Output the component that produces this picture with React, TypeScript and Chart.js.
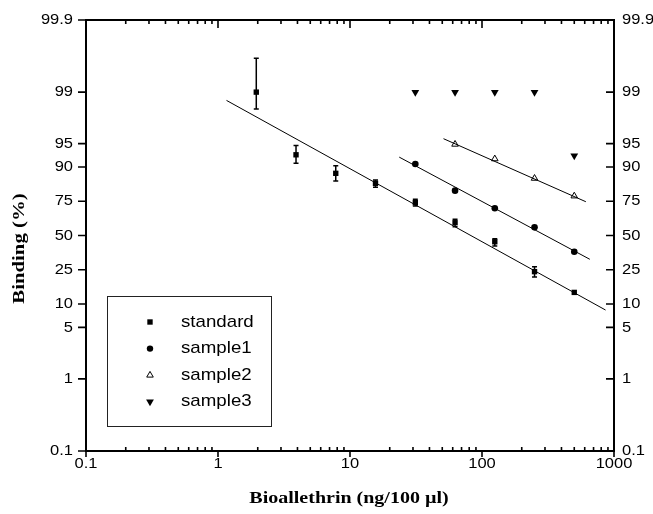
import React, { useEffect, useRef } from 'react';
import { Chart, registerables } from 'chart.js';
import { drawPoint } from 'chart.js/helpers';

Chart.register(...registerables);

// ---- data (binding in %, concentration in ng/100 µl) ----
const standardConc = [1.95, 3.9, 7.8, 15.6, 31.25, 62.5, 125, 250, 500];
const standardBinding = [99.0, 93.0, 88.0, 84.2, 74.1, 60.1, 45.0, 23.9, 13.9];
const standardErrHigh = [99.66, 94.7, 90.35, 85.6, 76.1, 62.7, 47.4, 26.9, 13.9];
const standardErrLow = [98.3, 91.0, 85.2, 82.4, 72.0, 57.0, 41.7, 20.9, 13.9];

const sample1Conc = [31.25, 62.5, 125, 250, 500];
const sample1Binding = [90.8, 80.8, 70.5, 56.5, 37.3];

const sample2Conc = [62.5, 125, 250, 500];
const sample2Binding = [94.9, 92.1, 86.2, 78.0];

const sample3Conc = [31.25, 62.5, 125, 250, 500];
const sample3Binding = [99.0, 99.0, 99.0, 99.0, 92.8];

// fitted lines (end points)
const fitStandardConc = [1.16, 863];
const fitStandardBinding = [98.7, 8.4];
const fitSample1Conc = [23.6, 656];
const fitSample1Binding = [92.5, 31.8];
const fitSample2Conc = [51.1, 612];
const fitSample2Binding = [95.7, 74.7];

const yTickValues = [0.1, 1, 5, 10, 25, 50, 75, 90, 95, 99, 99.9];
const yTickLabels = ['0.1', '1', '5', '10', '25', '50', '75', '90', '95', '99', '99.9'];
const xTickValues = [0.1, 1, 10, 100, 1000];
const xTickLabels = ['0.1', '1', '10', '100', '1000'];

const legendLabels = ['standard', 'sample1', 'sample2', 'sample3'];

const logit = (pct: number) => {
  const p = pct / 100;
  return Math.log(p / (1 - p));
};

const pts = (xs: number[], ys: number[]) => xs.map((x, i) => ({ x, y: logit(ys[i]) }));

const SANS = '"Liberation Sans", Arial, sans-serif';
const SERIF = '"Liberation Serif", "Times New Roman", serif';

function stretchText(
  ctx: CanvasRenderingContext2D,
  text: string,
  x: number,
  y: number,
  sx: number,
  align: CanvasTextAlign,
  baseline: CanvasTextBaseline = 'middle',
  rotate = 0
) {
  ctx.save();
  ctx.translate(x, y);
  if (rotate) ctx.rotate(rotate);
  ctx.scale(sx, 1);
  ctx.textAlign = align;
  ctx.textBaseline = baseline;
  ctx.fillText(text, 0, 0);
  ctx.restore();
}

const markerStyles = [
  { pointStyle: 'rect', radius: 3.8, rotation: 0, fill: '#000', borderWidth: 0 },
  { pointStyle: 'circle', radius: 3.2, rotation: 0, fill: '#000', borderWidth: 0 },
  { pointStyle: 'triangle', radius: 3.8, rotation: 0, fill: '#fff', borderWidth: 1 },
  { pointStyle: 'triangle', radius: 4.5, rotation: 180, fill: '#000', borderWidth: 0 },
];

const framePlugin = {
  id: 'probFrame',
  beforeDatasetsDraw(chart: any) {
    const ctx: CanvasRenderingContext2D = chart.ctx;
    const xs = chart.scales.x;
    const ys = chart.scales.y;
    ctx.save();
    ctx.strokeStyle = '#000';
    ctx.lineWidth = 1.5;
    standardConc.forEach((c, i) => {
      const hi = standardErrHigh[i];
      const lo = standardErrLow[i];
      if (hi === lo) return;
      const x = xs.getPixelForValue(c);
      const y1 = ys.getPixelForValue(logit(hi));
      const y2 = ys.getPixelForValue(logit(lo));
      ctx.beginPath();
      ctx.moveTo(x, y1);
      ctx.lineTo(x, y2);
      ctx.moveTo(x - 2.5, y1);
      ctx.lineTo(x + 2.5, y1);
      ctx.moveTo(x - 2.5, y2);
      ctx.lineTo(x + 2.5, y2);
      ctx.stroke();
    });
    ctx.restore();
  },
  afterDraw(chart: any) {
    const ctx: CanvasRenderingContext2D = chart.ctx;
    const { left, right, top, bottom } = chart.chartArea;
    const xs = chart.scales.x;
    const ys = chart.scales.y;
    ctx.save();
    ctx.strokeStyle = '#000';
    ctx.fillStyle = '#000';

    // frame
    ctx.lineWidth = 2;
    ctx.strokeRect(left, top, right - left, bottom - top);

    // y ticks
    ctx.lineWidth = 1.6;
    ctx.beginPath();
    yTickValues.forEach((v) => {
      const y = ys.getPixelForValue(logit(v));
      ctx.moveTo(left - 8, y);
      ctx.lineTo(left, y);
      ctx.moveTo(right - 8, y);
      ctx.lineTo(right, y);
    });
    ctx.stroke();

    // x ticks (major + minor)
    ctx.beginPath();
    for (let d = 0.1; d < 1000 * 1.001; d *= 10) {
      const x = xs.getPixelForValue(d);
      ctx.moveTo(x, bottom);
      ctx.lineTo(x, bottom + 6);
      ctx.moveTo(x, top);
      ctx.lineTo(x, top + 8);
      if (d < 999) {
        for (let m = 2; m <= 9; m++) {
          const xm = xs.getPixelForValue(d * m);
          ctx.moveTo(xm, bottom);
          ctx.lineTo(xm, bottom - 4);
          ctx.moveTo(xm, top);
          ctx.lineTo(xm, top + 4);
        }
      }
    }
    ctx.stroke();

    // tick labels
    ctx.font = `15px ${SANS}`;
    yTickValues.forEach((v, i) => {
      const y = ys.getPixelForValue(logit(v));
      stretchText(ctx, yTickLabels[i], left - 13, y, 1.1, 'right');
      stretchText(ctx, yTickLabels[i], right + 8, y, 1.1, 'left');
    });
    xTickValues.forEach((v, i) => {
      const x = xs.getPixelForValue(v);
      stretchText(ctx, xTickLabels[i], x, bottom + 13, 1.1, 'center');
    });

    // axis titles
    ctx.font = `bold 16px ${SERIF}`;
    stretchText(ctx, 'Bioallethrin (ng/100 \u00b5l)', (left + right) / 2 - 1, bottom + 52, 1.25, 'center', 'alphabetic');
    stretchText(ctx, 'Binding (%)', 24, (top + bottom) / 2 + 13, 1.3, 'center', 'alphabetic', -Math.PI / 2);

    // legend
    const lx = left + 21;
    const ly = top + 276;
    ctx.lineWidth = 1;
    ctx.strokeStyle = '#222';
    ctx.strokeRect(lx + 0.5, ly + 0.5, 164, 130);
    ctx.font = `17px ${SANS}`;
    legendLabels.forEach((lab, i) => {
      const ry = ly + 26 + i * 26.6;
      const ms = markerStyles[i];
      ctx.fillStyle = ms.fill;
      ctx.strokeStyle = '#000';
      ctx.lineWidth = ms.borderWidth || 1;
      drawPoint(ctx, { pointStyle: ms.pointStyle as any, radius: ms.radius, rotation: ms.rotation, borderWidth: ms.borderWidth } as any, lx + 43, ry);
      ctx.fillStyle = '#000';
      stretchText(ctx, lab, lx + 74, ry, 1.1, 'left');
    });
    ctx.restore();
  },
};

export default function App() {
  const ref = useRef<HTMLCanvasElement | null>(null);
  useEffect(() => {
    if (!ref.current) return;
    const line = (xs: number[], ys: number[], label: string) => ({
      label,
      data: pts(xs, ys),
      showLine: true,
      pointRadius: 0,
      borderColor: '#000',
      borderWidth: 1,
      backgroundColor: '#000',
    });
    const chart = new Chart(ref.current, {
      type: 'scatter',
      data: {
        datasets: [
          line(fitStandardConc, fitStandardBinding, 'fit standard'),
          line(fitSample1Conc, fitSample1Binding, 'fit sample1'),
          line(fitSample2Conc, fitSample2Binding, 'fit sample2'),
          {
            label: 'standard',
            data: pts(standardConc, standardBinding),
            pointStyle: 'rect',
            pointRadius: 3.8,
            backgroundColor: '#000',
            borderColor: '#000',
            borderWidth: 0,
          },
          {
            label: 'sample1',
            data: pts(sample1Conc, sample1Binding),
            pointStyle: 'circle',
            pointRadius: 3.3,
            backgroundColor: '#000',
            borderColor: '#000',
            borderWidth: 0,
          },
          {
            label: 'sample2',
            data: pts(sample2Conc, sample2Binding),
            pointStyle: 'triangle',
            pointRadius: 3.8,
            backgroundColor: '#fff',
            borderColor: '#000',
            borderWidth: 1,
          },
          {
            label: 'sample3',
            data: pts(sample3Conc, sample3Binding),
            pointStyle: 'triangle',
            pointRotation: 180,
            pointRadius: 4.5,
            backgroundColor: '#000',
            borderColor: '#000',
            borderWidth: 0,
          },
        ] as any,
      },
      options: {
        animation: false,
        responsive: false,
        events: [],
        layout: { padding: { left: 86, right: 39, top: 20, bottom: 63 } },
        plugins: { legend: { display: false }, tooltip: { enabled: false } },
        scales: {
          x: { type: 'logarithmic', min: 0.1, max: 1000, display: false },
          y: { type: 'linear', min: logit(0.1), max: logit(99.9), display: false },
        },
      } as any,
      plugins: [framePlugin],
    });
    return () => chart.destroy();
  }, []);
  return (
    <canvas
      ref={ref}
      width={653}
      height={514}
      style={{ position: 'absolute', left: 0, top: 0, width: 653, height: 514, background: '#fff' }}
    />
  );
}
